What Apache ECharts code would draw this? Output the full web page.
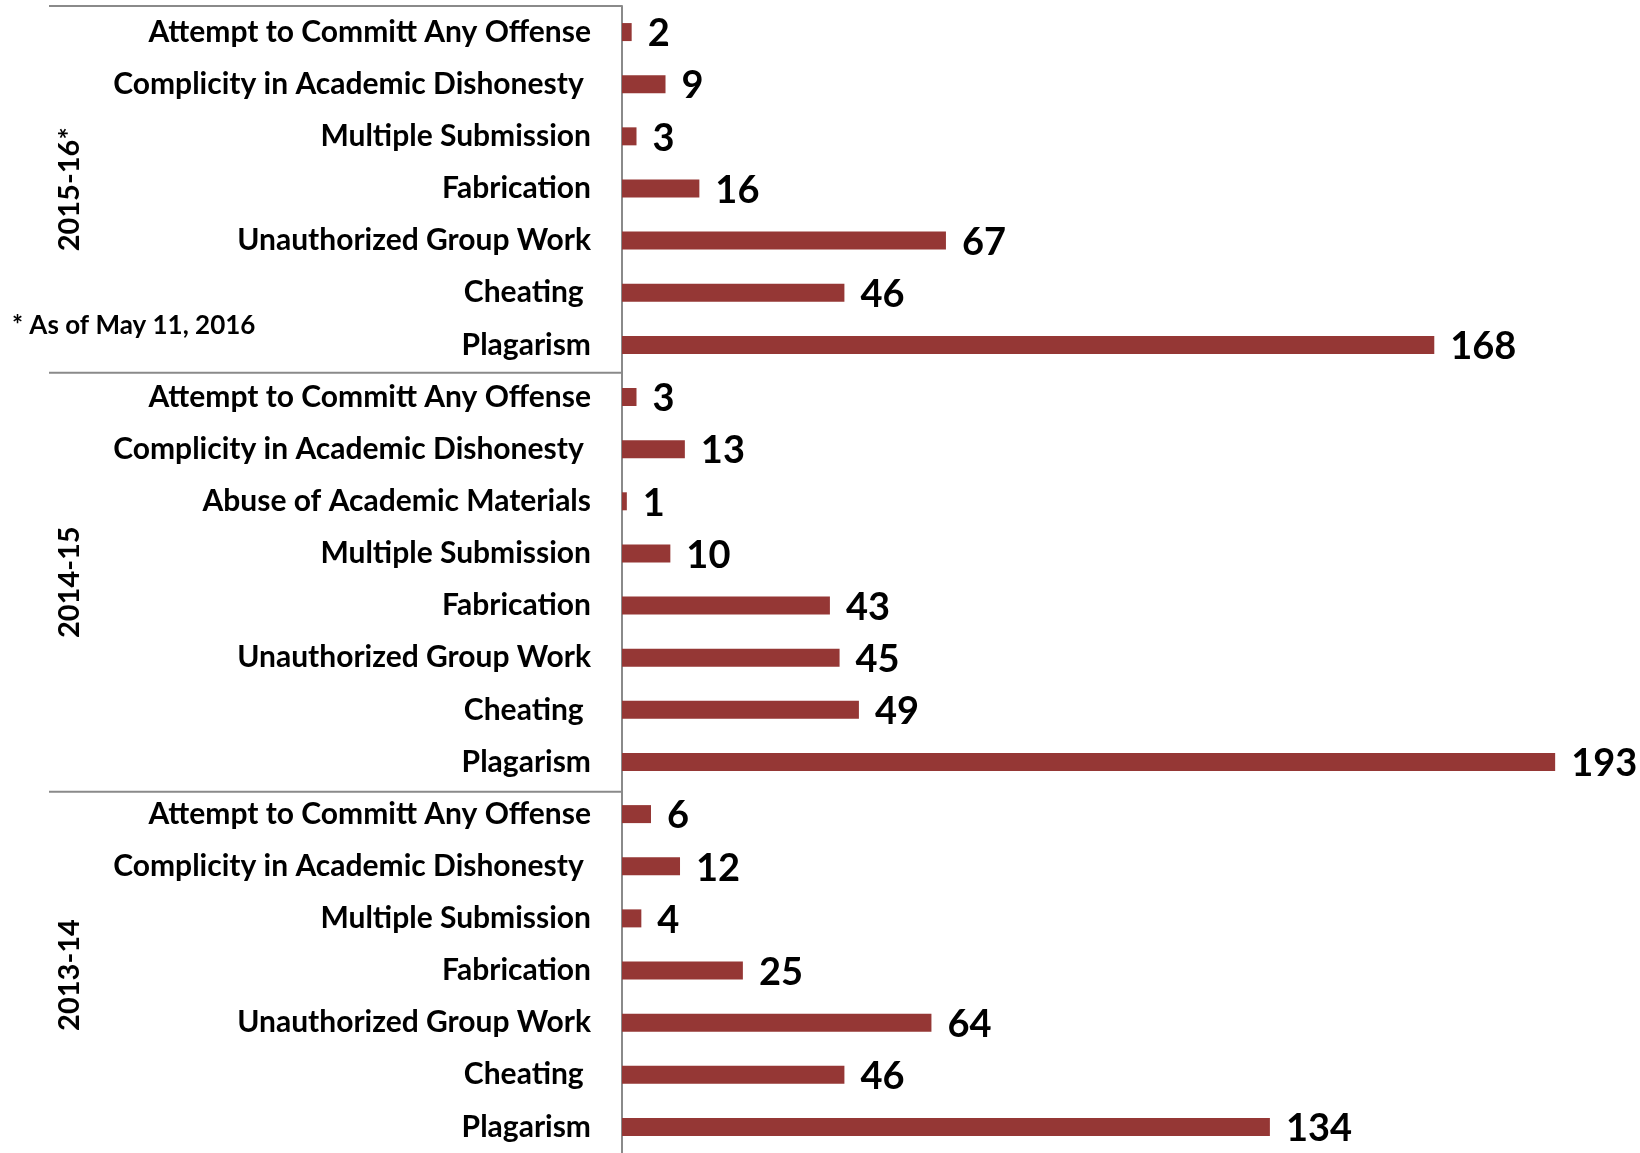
<!DOCTYPE html>
<html>
<head>
<meta charset="utf-8">
<script src="https://cdn.jsdelivr.net/npm/echarts@6/dist/echarts.min.js"></script>
<style>
  html, body { margin: 0; padding: 0; background: #fff; }
  #main { width: 1640px; height: 1153px; }
</style>
</head>
<body>
<div id="main"></div>
<script>
    // categories top to bottom, grouped by year
    var years = ['2015-16*', '2014-15', '2013-14'];
    var cats1516 = ['Attempt to Committ Any Offense', 'Complicity in Academic Dishonesty ', 'Multiple Submission',
        'Fabrication', 'Unauthorized Group Work', 'Cheating ', 'Plagarism'];
    var cats1415 = ['Attempt to Committ Any Offense', 'Complicity in Academic Dishonesty ', 'Abuse of Academic Materials',
        'Multiple Submission', 'Fabrication', 'Unauthorized Group Work', 'Cheating ', 'Plagarism'];
    var cats1314 = ['Attempt to Committ Any Offense', 'Complicity in Academic Dishonesty ', 'Multiple Submission',
        'Fabrication', 'Unauthorized Group Work', 'Cheating ', 'Plagarism'];
    var vals1516 = [2, 9, 3, 16, 67, 46, 168];
    var vals1415 = [3, 13, 1, 10, 43, 45, 49, 193];
    var vals1314 = [6, 12, 4, 25, 64, 46, 134];
    var note = '* As of May 11, 2016';

    var groups = [cats1516, cats1415, cats1314];
    var names = cats1516.concat(cats1415, cats1314);
    var values = vals1516.concat(vals1415, vals1314);
    var keys = names.map(function (n, i) { return String(i); });

    var FONT = 'Lato';
    var gridTop = 6, bandH = 52.38;

    var option = {
        backgroundColor: '#fff',
        animation: false,
        grid: { left: 622, top: gridTop, width: 967, height: bandH * names.length },
        xAxis: { type: 'value', min: 0, max: 200, show: false },
        yAxis: {
            type: 'category',
            inverse: true,
            data: keys,
            axisLine: { lineStyle: { color: '#8a8a8a', width: 2 } },
            axisTick: { show: false },
            axisLabel: {
                margin: 31,
                interval: 0,
                fontFamily: FONT,
                fontWeight: 'bold',
                fontSize: 30,
                color: '#000',
                formatter: function (v) { return names[+v]; }
            }
        },
        series: [{
            type: 'bar',
            data: values,
            barWidth: 18,
            itemStyle: { color: '#953735' },
            label: {
                show: true,
                position: 'right',
                distance: 16,
                offset: [0, 2],
                fontFamily: FONT,
                fontWeight: 'bold',
                fontSize: 38,
                color: '#000'
            }
        }]
    };

    var myChart = echarts.init(document.getElementById('main'));
    myChart.setOption(option);

    // group separators and year labels
    var graphics = [];
    var start = 0;
    var lineStyle = { stroke: '#8a8a8a', lineWidth: 2 };
    graphics.push({ type: 'line', shape: { x1: 49, y1: gridTop, x2: 622, y2: gridTop }, style: lineStyle });
    for (var g = 0; g < groups.length; g++) {
        var end = start + groups[g].length;
        var y0 = gridTop + start * bandH;
        var y1 = gridTop + end * bandH;
        if (g > 0) {
            graphics.push({ type: 'line', shape: { x1: 49, y1: y0, x2: 622, y2: y0 }, style: lineStyle });
        }
        graphics.push({
            type: 'text', x: 70, y: (y0 + y1) / 2, rotation: Math.PI / 2,
            style: { text: years[g], font: 'bold 29px ' + FONT, fill: '#000', align: 'center', verticalAlign: 'middle' }
        });
        start = end;
    }
    graphics.push({
        type: 'text', x: 12, y: 326,
        style: { text: note, font: 'bold 26px ' + FONT, fill: '#000', align: 'left', verticalAlign: 'middle' }
    });
    myChart.setOption({ graphic: graphics });
</script>
</body>
</html>
